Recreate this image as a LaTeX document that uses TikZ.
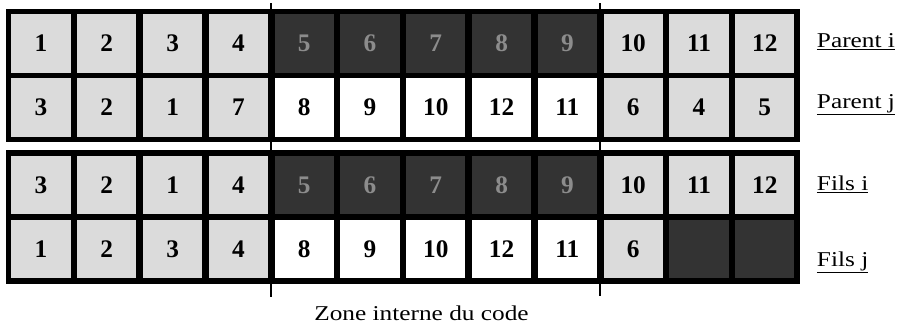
\documentclass[tikz,border=0pt]{standalone}
\usepackage{fontspec}
\setmainfont{Liberation Serif}
\newfontfamily\labelfont[FakeStretch=1.2]{Liberation Serif}
\usepackage{tikz}
\usetikzlibrary{positioning,fit,backgrounds}

\begin{document}
\begin{tikzpicture}[x=0.025cm,y=-0.025cm,
  lcell/.style={fill=black!14,minimum width=1.475cm,minimum height=1.45cm,inner sep=0pt,
                font=\bfseries\fontsize{18}{18}\selectfont},
  wcell/.style={lcell,fill=white},
  dcell/.style={lcell,fill=black!80,text=black!45},
  lbl/.style={anchor=base west,font=\labelfont\fontsize{15}{15}\selectfont},
]
\useasboundingbox (0,0) rectangle (902,324);
% rows of genes
\foreach \n/\s [count=\k] in {1/lcell,2/lcell,3/lcell,4/lcell,5/dcell,6/dcell,7/dcell,8/dcell,9/dcell,10/lcell,11/lcell,12/lcell}
  \node[\s] (pi\k) at ({41+65.8*(\k-1)},43.5) {\n};
\foreach \n/\s [count=\k] in {3/lcell,2/lcell,1/lcell,7/lcell,8/wcell,9/wcell,10/wcell,12/wcell,11/wcell,6/lcell,4/lcell,5/lcell}
  \node[\s] (pj\k) at ({41+65.8*(\k-1)},107.5) {\n};
\foreach \n/\s [count=\k] in {3/lcell,2/lcell,1/lcell,4/lcell,5/dcell,6/dcell,7/dcell,8/dcell,9/dcell,10/lcell,11/lcell,12/lcell}
  \node[\s] (fi\k) at ({41+65.8*(\k-1)},185) {\n};
\foreach \n/\s [count=\k] in {1/lcell,2/lcell,3/lcell,4/lcell,8/wcell,9/wcell,10/wcell,12/wcell,11/wcell,6/lcell,{}/dcell,{}/dcell}
  \node[\s] (fj\k) at ({41+65.8*(\k-1)},249) {\n};
% black frames
\begin{scope}[on background layer]
  \node[fit=(pi1)(pj12),fill=black,inner sep=0.14cm] (par) {};
  \node[fit=(fi1)(fj12),fill=black,inner sep=0.14cm] (fils) {};
\end{scope}
% internal zone
\coordinate (zlt) at (271,3);
\coordinate (zlb) at (271,297);
\coordinate (zrt) at (600,3);
\coordinate (zrb) at (600,296);
\draw[line width=1.4pt] (zlt) -- (zlb);
\draw[line width=1.4pt] (zrt) -- (zrb);
\node[lbl,anchor=base] (zone) at (421.5,320) {Zone interne du code};
% row labels
\node[lbl] (lpi) at (812,47) {\underline{Parent i}};
\node[lbl] (lpj) at (812,108) {\underline{Parent j}};
\node[lbl] (lfi) at (812,190) {\underline{Fils i}};
\node[lbl] (lfj) at (812,266) {\underline{Fils j}};
\end{tikzpicture}
\end{document}
